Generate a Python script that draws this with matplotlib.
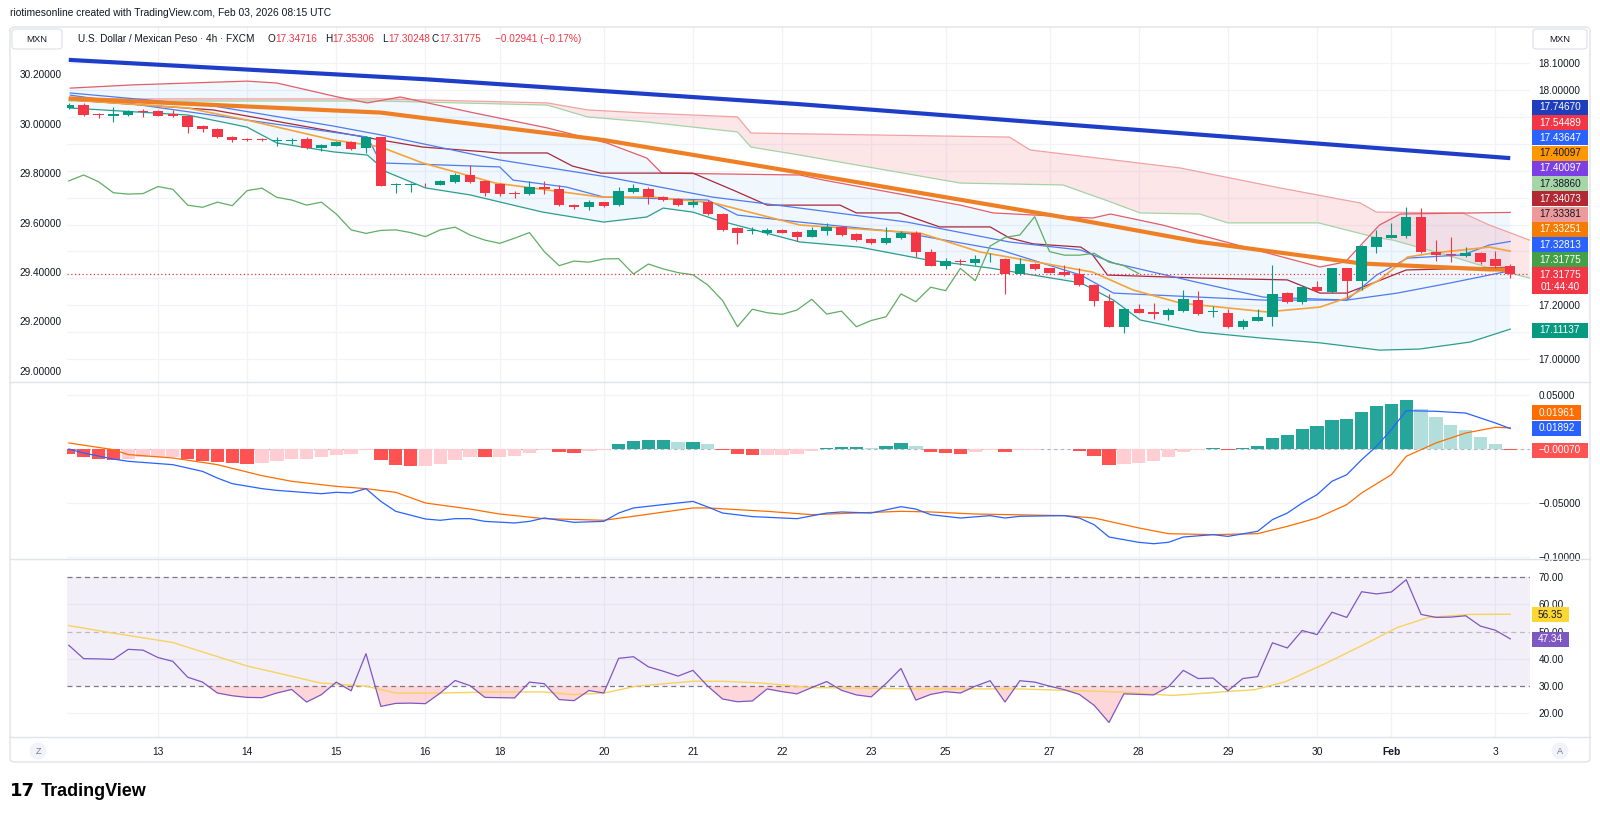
#!/usr/bin/env python3
"""USD/MXN 4h TradingView-style chart (candles, Ichimoku/bands, MACD, RSI)."""

import numpy as np
import matplotlib
matplotlib.use('Agg')
import matplotlib.pyplot as plt
from matplotlib.patches import FancyBboxPatch, Rectangle, Ellipse
from matplotlib.lines import Line2D

plt.rcParams['font.family'] = ['Liberation Sans', 'DejaVu Sans']

# ============================================================================
# Data (x = 4h bar index, 0 = Jan 12 00:00)
# ============================================================================
day_bars = [6, 12, 18, 24, 29, 36, 42, 48, 54, 59, 66, 72, 78, 84, 89, 96]
day_labels = ['13', '14', '15', '16', '18', '20', '21', '22', '23', '25',
              '27', '28', '29', '30', 'Feb', '3']

opens = [17.934, 17.944, 17.910, 17.905, 17.907, 17.922, 17.923, 17.910, 17.903, 17.866,
         17.855, 17.826, 17.816, 17.816, 17.810, 17.812, 17.817, 17.783, 17.792, 17.807,
         17.783, 17.824, 17.647, 17.648, 17.652, 17.647, 17.659, 17.684, 17.662, 17.650,
         17.618, 17.613, 17.641, 17.632, 17.572, 17.564, 17.583, 17.572, 17.622, 17.632,
         17.603, 17.594, 17.572, 17.583, 17.539, 17.486, 17.474, 17.467, 17.480, 17.473,
         17.455, 17.477, 17.490, 17.465, 17.445, 17.430, 17.449, 17.470, 17.399, 17.347,
         17.364, 17.358, 17.370, 17.372, 17.316, 17.353, 17.337, 17.322, 17.316, 17.275,
         17.217, 17.120, 17.185, 17.174, 17.164, 17.180, 17.219, 17.174, 17.172, 17.120,
         17.143, 17.157, 17.244, 17.212, 17.267, 17.250, 17.337, 17.291, 17.418, 17.451,
         17.458, 17.529, 17.399, 17.388, 17.384, 17.393, 17.372, 17.34716]
highs = [17.952, 17.950, 17.915, 17.938, 17.925, 17.928, 17.926, 17.925, 17.908, 17.870,
         17.858, 17.830, 17.820, 17.820, 17.825, 17.823, 17.826, 17.800, 17.810, 17.810,
         17.830, 17.826, 17.655, 17.656, 17.655, 17.665, 17.690, 17.720, 17.665, 17.653,
         17.625, 17.660, 17.660, 17.645, 17.576, 17.590, 17.585, 17.640, 17.650, 17.640,
         17.607, 17.598, 17.595, 17.590, 17.542, 17.490, 17.490, 17.487, 17.485, 17.476,
         17.490, 17.505, 17.495, 17.468, 17.448, 17.490, 17.475, 17.475, 17.410, 17.375,
         17.370, 17.385, 17.393, 17.375, 17.375, 17.356, 17.340, 17.350, 17.340, 17.280,
         17.240, 17.190, 17.205, 17.210, 17.190, 17.257, 17.253, 17.198, 17.185, 17.148,
         17.185, 17.351, 17.250, 17.270, 17.290, 17.340, 17.340, 17.425, 17.480, 17.504,
         17.566, 17.560, 17.442, 17.454, 17.418, 17.398, 17.400, 17.35306]
lows = [17.930, 17.903, 17.895, 17.882, 17.905, 17.900, 17.903, 17.900, 17.840, 17.845,
        17.820, 17.805, 17.810, 17.810, 17.790, 17.800, 17.780, 17.775, 17.790, 17.778,
        17.765, 17.642, 17.618, 17.620, 17.640, 17.645, 17.655, 17.656, 17.605, 17.605,
        17.600, 17.610, 17.615, 17.568, 17.558, 17.553, 17.565, 17.568, 17.618, 17.578,
        17.588, 17.570, 17.566, 17.536, 17.475, 17.427, 17.465, 17.462, 17.467, 17.440,
        17.452, 17.460, 17.458, 17.440, 17.427, 17.428, 17.445, 17.380, 17.345, 17.335,
        17.350, 17.350, 17.360, 17.243, 17.313, 17.330, 17.318, 17.310, 17.272, 17.197,
        17.118, 17.095, 17.170, 17.150, 17.145, 17.175, 17.163, 17.155, 17.117, 17.110,
        17.140, 17.123, 17.208, 17.206, 17.250, 17.245, 17.225, 17.255, 17.394, 17.448,
        17.449, 17.395, 17.364, 17.360, 17.380, 17.355, 17.340, 17.30248]
closes = [17.944, 17.907, 17.906, 17.909, 17.922, 17.920, 17.905, 17.904, 17.864, 17.854,
          17.824, 17.814, 17.813, 17.813, 17.813, 17.815, 17.783, 17.796, 17.807, 17.782,
          17.824, 17.644, 17.651, 17.652, 17.649, 17.662, 17.684, 17.659, 17.618, 17.613,
          17.615, 17.641, 17.631, 17.572, 17.564, 17.583, 17.570, 17.626, 17.635, 17.601,
          17.591, 17.572, 17.583, 17.539, 17.480, 17.467, 17.478, 17.480, 17.470, 17.455,
          17.480, 17.490, 17.461, 17.442, 17.430, 17.449, 17.470, 17.399, 17.347, 17.364,
          17.360, 17.372, 17.373, 17.316, 17.353, 17.335, 17.321, 17.313, 17.275, 17.217,
          17.120, 17.185, 17.172, 17.166, 17.182, 17.222, 17.167, 17.178, 17.120, 17.143,
          17.157, 17.242, 17.213, 17.267, 17.254, 17.337, 17.291, 17.420, 17.452, 17.461,
          17.529, 17.399, 17.386, 17.386, 17.393, 17.360, 17.347, 17.31775]

# lagging span (plotted from bar 0 onwards)
lagging = [17.662, 17.684, 17.659, 17.618, 17.613, 17.615, 17.641, 17.631, 17.572, 17.564,
           17.583, 17.570, 17.626, 17.635, 17.601, 17.591, 17.572, 17.583, 17.539, 17.480,
           17.467, 17.478, 17.480, 17.470, 17.455, 17.480, 17.490, 17.461, 17.442, 17.430,
           17.449, 17.470, 17.399, 17.347, 17.364, 17.360, 17.372, 17.373, 17.316, 17.353,
           17.335, 17.321, 17.313, 17.275, 17.217, 17.120, 17.185, 17.172, 17.166, 17.182,
           17.222, 17.167, 17.178, 17.120, 17.143, 17.157, 17.242, 17.213, 17.267, 17.254,
           17.337, 17.291, 17.420, 17.452, 17.461, 17.529, 17.399, 17.386, 17.386, 17.393,
           17.360, 17.347, 17.31775]

ma_long_x = [0, 24, 49, 68, 97]
ma_long = [18.112, 18.040, 17.948, 17.868, 17.7467]
ma_mid_x = [0, 21, 24, 36, 52, 68, 76, 87, 95.6, 97]
ma_mid = [17.969, 17.916, 17.895, 17.814, 17.667, 17.517, 17.436, 17.355, 17.333, 17.3325]

upper_x = [0.1, 4.3, 12.0, 14.0, 18.1, 20.1, 22.3, 27.0, 32.2, 36.2, 38.9, 39.9, 49.2,
           50.8, 60.0, 62.2, 68.9, 70.1, 73.6, 76.1, 84.2, 85.9, 88.2, 89.6, 97.0]
upper = [18.007, 18.019, 18.033, 18.026, 17.974, 17.952, 17.974, 17.918, 17.859, 17.803,
         17.747, 17.691, 17.684, 17.665, 17.572, 17.543, 17.524, 17.539, 17.498, 17.461,
         17.342, 17.361, 17.498, 17.539, 17.545]
lower_x = [0.1, 8, 12, 14, 17.8, 20.1, 21.4, 24, 27, 29.9, 31.9, 36, 38.9, 40, 42, 43.6,
           49.2, 53.2, 57.8, 62, 68.1, 70.3, 72.1, 76.1, 80.2, 84.2, 88.2, 90.9, 94.3, 97]
lower = [17.933, 17.907, 17.862, 17.803, 17.770, 17.758, 17.695, 17.636, 17.610, 17.572,
         17.546, 17.509, 17.528, 17.561, 17.546, 17.517, 17.435, 17.416, 17.368, 17.338,
         17.283, 17.219, 17.145, 17.100, 17.078, 17.060, 17.033, 17.037, 17.063, 17.111]

cloud_a_x = [0, 21, 32.2, 34.9, 38.9, 45.0, 45.9, 63.3, 64.7, 74.8, 81.5, 86.9, 88.0,
             93.8, 95.6, 98.3]
cloud_a = [17.967, 17.967, 17.952, 17.926, 17.914, 17.900, 17.840, 17.825, 17.777, 17.710,
           17.636, 17.580, 17.546, 17.543, 17.498, 17.442]
cloud_b_x = [0, 21, 32.2, 34.9, 38.9, 45.0, 45.9, 49.2, 60.0, 66.9, 70.1, 72.1, 76.1, 78.0,
             84.1, 87.8, 89.1, 93.2, 95.6, 98.3]
cloud_b = [17.959, 17.959, 17.944, 17.900, 17.881, 17.844, 17.788, 17.758, 17.654, 17.647,
           17.584, 17.543, 17.539, 17.506, 17.506, 17.454, 17.442, 17.379, 17.338, 17.301]

base_x = [0.1, 9.7, 21, 23.8, 29, 32.2, 33.9, 35.8, 42, 44.7, 47, 51.9, 53, 55.9, 58.6, 62,
          63.3, 64.9, 68.1, 68.9, 69.9, 76.1, 82, 84.2, 86, 87.8, 90, 97]
base = [17.963, 17.926, 17.814, 17.788, 17.766, 17.766, 17.717, 17.691, 17.691, 17.628,
        17.572, 17.572, 17.543, 17.543, 17.491, 17.491, 17.450, 17.428, 17.416, 17.387,
        17.312, 17.301, 17.294, 17.245, 17.245, 17.283, 17.331, 17.341]

blue_up_x = [0.1, 9.7, 17.8, 21, 29, 36.2, 43.3, 49.2, 56.4, 63.3, 68.1, 70.3, 76.1, 80.4,
             86, 88, 90.1, 93.8, 95.6, 97]
blue_up = [17.989, 17.941, 17.866, 17.833, 17.740, 17.677, 17.602, 17.561, 17.509, 17.435,
           17.405, 17.357, 17.283, 17.230, 17.219, 17.312, 17.375, 17.387, 17.424, 17.437]
blue_mid_x = [0.1, 20.1, 21, 29, 29.9, 33.5, 36, 43, 45, 49.2, 55.9, 62.7, 68.1, 70.3,
              76.1, 80.4, 86, 89.4, 93, 97]
blue_mid = [17.981, 17.825, 17.729, 17.714, 17.665, 17.639, 17.602, 17.591, 17.535, 17.509,
            17.472, 17.405, 17.312, 17.245, 17.230, 17.219, 17.219, 17.245, 17.283, 17.328]

ma_fast_x = [0.1, 8, 12, 17.8, 20.1, 21, 23.8, 28.7, 35.8, 39.3, 43.4, 49.2, 57.3, 61.3,
             68.9, 71.6, 74.8, 80.6, 84.2, 86, 88.2, 90.1, 91.8, 95.6, 97]
ma_fast = [17.963, 17.933, 17.888, 17.814, 17.796, 17.788, 17.729, 17.654, 17.602, 17.602,
           17.580, 17.498, 17.468, 17.398, 17.323, 17.257, 17.208, 17.175, 17.193, 17.227,
           17.294, 17.379, 17.394, 17.416, 17.401]

# MACD
macd_hist = [-0.0046, -0.0077, -0.0090, -0.0099, -0.0090, -0.0077, -0.0077, -0.0074, -0.0090, -0.0108,
             -0.0123, -0.0130, -0.0139, -0.0130, -0.0114, -0.0090, -0.0090, -0.0077, -0.0053, -0.0046,
             -0.0012, -0.0099, -0.0145, -0.0160, -0.0155, -0.0139, -0.0099, -0.0071, -0.0077, -0.0077,
             -0.0062, -0.0037, -0.0012, -0.0031, -0.0040, -0.0021, -0.0012, 0.0043, 0.0077, 0.0086,
             0.0086, 0.0068, 0.0068, 0.0043, -0.0012, -0.0043, -0.0053, -0.0053, -0.0053, -0.0046,
             -0.0021, 0.0012, 0.0021, 0.0021, 0.0009, 0.0031, 0.0053, 0.0031, -0.0031, -0.0040,
             -0.0049, -0.0028, -0.0012, -0.0031, -0.0012, -0.0009, 0.0003, -0.0003, -0.0021, -0.0065,
             -0.0148, -0.0139, -0.0130, -0.0114, -0.0077, -0.0031, -0.0012, 0.0012, -0.0012, 0.0012,
             0.0031, 0.0102, 0.0132, 0.0185, 0.0210, 0.0269, 0.0278, 0.0343, 0.0395, 0.0419,
             0.0451, 0.0370, 0.0294, 0.0225, 0.0179, 0.0111, 0.0049, -0.0007]
macd_x = [0, 1, 3, 4, 7, 9, 10, 11, 13, 14, 17, 18, 19, 20, 21, 22, 24, 25, 26, 27,
          28, 30, 31, 32, 34, 36, 37, 38, 40, 42, 43, 44, 46, 49, 51, 52, 54, 56, 57, 58,
          60, 62, 63, 64, 67, 68, 69, 70, 72, 73, 74, 75, 77, 78, 80, 81, 82, 83, 84, 85,
          86, 87, 88, 89, 90, 92, 94, 96, 97]
macd_line = [0.0, -0.0037, -0.0093, -0.0114, -0.0145, -0.0207, -0.0269, -0.0321, -0.0367, -0.0383,
             -0.0414, -0.0401, -0.0407, -0.0367, -0.0485, -0.0577, -0.0648, -0.0660, -0.0645, -0.0645,
             -0.0670, -0.0685, -0.0670, -0.0639, -0.0679, -0.0670, -0.0593, -0.0546, -0.0515, -0.0485,
             -0.0537, -0.0593, -0.0626, -0.0645, -0.0593, -0.0583, -0.0593, -0.0534, -0.0556, -0.0608,
             -0.0639, -0.0617, -0.0639, -0.0623, -0.0617, -0.0639, -0.0701, -0.0815, -0.0864, -0.0877,
             -0.0864, -0.0815, -0.0793, -0.0809, -0.0762, -0.0654, -0.0593, -0.0500, -0.0423, -0.0299,
             -0.0238, -0.0099, 0.0025, 0.0179, 0.0355, 0.0349, 0.0333, 0.0241, 0.01892]
signal_x = [0, 3, 4, 7, 10, 13, 15, 18, 20, 22, 24, 27, 29, 32, 36, 38, 42, 43, 47, 50,
            56, 58, 61, 67, 69, 72, 74, 77, 80, 82, 84, 86, 87, 89, 90, 92, 94, 96, 97]
signal_line = [0.0056, -0.0006, -0.0052, -0.0083, -0.0145, -0.0247, -0.0299, -0.0346, -0.0367, -0.0401,
               -0.0500, -0.0556, -0.0602, -0.0645, -0.0660, -0.0623, -0.0546, -0.0546, -0.0577, -0.0608,
               -0.0577, -0.0583, -0.0602, -0.0617, -0.0639, -0.0731, -0.0784, -0.0793, -0.0784, -0.0716,
               -0.0639, -0.0515, -0.0407, -0.0238, -0.0068, 0.0056, 0.0148, 0.0201, 0.01961]

# RSI
rsi = [45.0, 40.1, 40.0, 39.8, 43.5, 43.2, 40.5, 39.1, 33.3, 31.5,
       27.5, 26.5, 25.9, 25.8, 27.5, 28.8, 24.2, 26.9, 31.5, 28.3,
       41.9, 22.6, 23.7, 23.8, 23.6, 27.5, 32.1, 30.2, 25.9, 25.8,
       25.7, 31.5, 30.9, 25.1, 24.7, 28.4, 27.5, 40.2, 40.8, 37.1,
       35.5, 33.7, 35.8, 30.0, 25.3, 24.3, 24.6, 29.0, 28.0, 27.2,
       29.5, 31.7, 28.5, 26.8, 26.1, 31.0, 36.5, 24.9, 27.0, 28.0,
       27.5, 30.0, 32.0, 24.2, 32.0, 31.5, 30.0, 28.7, 27.0, 23.0,
       16.7, 27.2, 27.0, 26.8, 29.8, 35.8, 32.8, 33.0, 28.3, 32.8,
       33.5, 45.9, 44.0, 50.4, 48.9, 57.1, 55.2, 64.6, 63.8, 64.5,
       69.0, 56.3, 55.2, 55.3, 55.8, 52.0, 50.5, 47.34]
rsi_ma_x = [0, 2.7, 7, 12, 14, 16.9, 20, 22, 24.9, 28.9, 32, 33.9, 36, 38.2, 42, 44, 46.5,
            50, 57.2, 64, 71, 74.3, 77.8, 79.8, 81.9, 84.6, 87.4, 89.4, 91.5, 94.3, 97]
rsi_ma = [52.2, 49.7, 46.0, 37.4, 34.9, 31.2, 30.0, 27.5, 27.5, 27.9, 27.9, 26.9, 27.5, 30.0,
          31.8, 31.8, 31.2, 29.5, 29.0, 29.0, 27.8, 26.6, 28.0, 28.7, 31.7, 38.4, 45.9, 51.5,
          55.2, 56.3, 56.35]

# Right-scale tags: (y pixel, text, background, text colour)
price_tags = [
    (107.3, '17.74670', '#1E3EBE', 'white'),
    (122.7, '17.54489', '#F23645', 'white'),
    (137.9, '17.43647', '#2962FF', 'white'),
    (153.2, '17.40097', '#FF9800', '#131722'),
    (168.4, '17.40097', '#7B3FE4', 'white'),
    (183.6, '17.38860', '#A5D6A7', '#131722'),
    (198.9, '17.34073', '#B22833', 'white'),
    (214.1, '17.33381', '#EF9A9A', '#131722'),
    (229.4, '17.33251', '#F57C00', 'white'),
    (244.6, '17.32813', '#2962FF', 'white'),
    (259.9, '17.31775', '#43A047', 'white'),
    (330.5, '17.11137', '#089981', 'white'),
    (413, '0.01961', '#FF6D00', 'white'),
    (428.3, '0.01892', '#2962FF', 'white'),
    (450, '\u22120.00070', '#FF5252', 'white'),
    (614.5, '56.35', '#FDD835', '#131722'),
    (639.5, '47.34', '#7E57C2', 'white'),
]

# ============================================================================
# Figure
# ============================================================================
W, H = 1600, 817
TXT = '#131722'
GRID = '#F0F3FA'
BORDER = '#E0E3EB'
UP, DOWN = '#089981', '#F23645'


def fx(px):
    return px / W


def fy(py):
    return 1 - py / H


fig = plt.figure(figsize=(W / 100, H / 100), dpi=100, facecolor='white')
X0, X1 = 67, 1530


def pane(top, bottom):
    return fig.add_axes([fx(X0), fy(bottom), fx(X1) - fx(X0), (bottom - top) / H])


ax = pane(27, 382)
axm = pane(382, 559)
axr = pane(559, 737)

# left scale (twin) created first: twinx moves the host ticks, so fix sides afterwards
axl = ax.twinx()
axl.set_ylim(28.9543, 30.3915)
left_ticks = [30.2, 30.0, 29.8, 29.6, 29.4, 29.2, 29.0]
axl.set_yticks(left_ticks)
axl.set_yticklabels([f'{t:.5f}' for t in left_ticks])
axl.yaxis.tick_left()
axl.tick_params(axis='y', length=0, pad=4, labelsize=7.2, labelcolor=TXT)
for s in axl.spines.values():
    s.set_visible(False)

for a in (ax, axm, axr):
    a.set_xlim(-0.12, 98.33)
    for s in a.spines.values():
        s.set_visible(False)
    a.set_xticks([])
    a.yaxis.tick_right()
    a.tick_params(axis='both', length=0, labelsize=7.2, labelcolor=TXT)
    a.tick_params(axis='y', pad=6)
    for b in day_bars:
        a.axvline(b, color=GRID, lw=0.9, zorder=0)

# ---------------------------------------------------------------- main pane
ax.set_ylim(16.9145, 18.2342)
for v in np.round(np.arange(17.0, 18.15, 0.1), 1):
    ax.axhline(v, color=GRID, lw=0.9, zorder=0)
ax.set_yticks([18.1, 18.0, 17.2, 17.0])
ax.set_yticklabels(['18.10000', '18.00000', '17.20000', '17.00000'])

arr = np.array
# band fill (upper channel to lower band) and cloud fill
ax.fill(np.r_[arr(upper_x), arr(lower_x)[::-1]], np.r_[arr(upper), arr(lower)[::-1]],
        color='#1E88E5', alpha=0.065, lw=0, zorder=1)
ax.fill(np.r_[arr(cloud_a_x), arr(cloud_b_x)[::-1]], np.r_[arr(cloud_a), arr(cloud_b)[::-1]],
        color='#F23645', alpha=0.12, lw=0, zorder=1.2)

ax.plot(cloud_a_x, cloud_a, color='#F0A3A3', lw=0.9, zorder=2)
ax.plot(cloud_b_x, cloud_b, color='#A3D4A5', lw=0.9, zorder=2)
ax.plot(upper_x, upper, color='#E35D6A', lw=0.9, zorder=3)
ax.plot(lower_x, lower, color='#2A9D8F', lw=0.9, zorder=3)
ax.plot(base_x, base, color='#A8283A', lw=0.9, zorder=3)
ax.plot(blue_up_x, blue_up, color='#4F7BF0', lw=0.9, zorder=3)
ax.plot(blue_mid_x, blue_mid, color='#4F7BF0', lw=0.9, zorder=3)
ax.plot(ma_fast_x, ma_fast, color='#F5A33A', lw=1.2, zorder=3.2)
ax.plot(np.arange(len(lagging)), lagging, color='#5FAE63', lw=0.9, zorder=3.1)
ax.plot(ma_mid_x, ma_mid, color='#EF7F24', lw=3.0, zorder=4, solid_capstyle='butt')
ax.plot(ma_long_x, ma_long, color='#1E3EC8', lw=3.0, zorder=4, solid_capstyle='butt')

o, h, l, c = map(arr, (opens, highs, lows, closes))
bars = np.arange(len(c))
cols = np.where(c >= o, UP, DOWN)
ax.vlines(bars, l, h, colors=cols, lw=0.8, zorder=6)
ax.bar(bars, np.maximum(np.abs(c - o), 0.003), bottom=np.minimum(o, c), width=0.7,
       color=cols, lw=0, zorder=7)
ax.axhline(c[-1], color=DOWN, lw=0.9, ls=(0, (1, 2)), zorder=5)

# ---------------------------------------------------------------- MACD pane
axm.set_ylim(-0.10185, 0.06204)
for v in (0.05, 0.0, -0.05, -0.1):
    axm.axhline(v, color=GRID, lw=0.9, zorder=0)
hist = arr(macd_hist)
hcols = []
for i, v in enumerate(hist):
    prev = hist[i - 1] if i else 0.0
    if v >= 0:
        hcols.append('#26A69A' if v >= prev else '#B2DFDB')
    else:
        hcols.append('#FF5252' if v < prev else '#FFCDD2')
axm.bar(bars, hist, width=0.9, color=hcols, lw=0, zorder=2)
axm.axhline(0, color='#787B86', lw=0.8, ls=(0, (3, 3)), alpha=0.5, zorder=1)
axm.plot(signal_x, signal_line, color='#FF6D00', lw=0.9, zorder=3)
axm.plot(macd_x, macd_line, color='#2962FF', lw=0.9, zorder=3)
axm.set_yticks([0.05, -0.05, -0.1])
axm.set_yticklabels(['0.05000', '\u22120.05000', '\u22120.10000'])

# ---------------------------------------------------------------- RSI pane
axr.set_ylim(11.39, 76.59)
for v in (60, 40, 20):
    axr.axhline(v, color=GRID, lw=0.9, zorder=0)
axr.axhspan(30, 70, color='#7E57C2', alpha=0.09, lw=0, zorder=0.5)
axr.axhline(70, color='#787B86', lw=0.9, ls=(0, (4, 3)), zorder=1)
axr.axhline(50, color='#787B86', lw=0.9, ls=(0, (4, 3)), alpha=0.45, zorder=1)
axr.axhline(30, color='#787B86', lw=0.9, ls=(0, (4, 3)), zorder=1)
r = arr(rsi)
axr.fill_between(bars, r, 30, where=r < 30, interpolate=True, color='#F23645',
                 alpha=0.2, lw=0, zorder=1.5)
axr.plot(rsi_ma_x, rsi_ma, color='#F7D35E', lw=1.0, zorder=2)
axr.plot(bars, r, color='#7E57C2', lw=0.9, zorder=3)
axr.set_yticks([70, 60, 50, 40, 30, 20])
axr.set_yticklabels([f'{t:.2f}' for t in (70, 60, 50, 40, 30, 20)])
axr.set_xticks(day_bars)
axr.set_xticklabels(day_labels)
axr.tick_params(axis='x', pad=7, labelsize=7.4)
for t in axr.get_xticklabels():
    if t.get_text() == 'Feb':
        t.set_fontweight('bold')

# ---------------------------------------------------------------- chrome
fig.add_artist(FancyBboxPatch((fx(10), fy(762)), fx(1580), (762 - 27) / H,
                              boxstyle='round,pad=0,rounding_size=0.004',
                              transform=fig.transFigure, fill=False, ec=BORDER, lw=1))
for yy in (382, 559, 737):
    fig.add_artist(Line2D([fx(10), fx(1590)], [fy(yy), fy(yy)], color=BORDER, lw=1,
                          transform=fig.transFigure))

for bx0, bx1 in ((12, 62), (1533, 1587)):
    fig.add_artist(FancyBboxPatch((fx(bx0), fy(49)), fx(bx1 - bx0), 20 / H,
                                  boxstyle='round,pad=0,rounding_size=0.003',
                                  transform=fig.transFigure, fc='white', ec=BORDER, lw=0.9))
    fig.text(fx((bx0 + bx1) / 2), fy(39), 'MXN', fontsize=6.8, color=TXT,
             ha='center', va='center')


def tag(yc, text, bg, fg, height=15):
    w = 6.2 * len(text) + 6
    fig.add_artist(Rectangle((fx(1532), fy(yc + height / 2)), fx(w), height / H,
                             transform=fig.transFigure, fc=bg, ec='none'))
    fig.text(fx(1532 + w / 2), fy(yc), text, fontsize=7.2, color=fg,
             ha='center', va='center')


for yc, text, bg, fg in price_tags:
    tag(yc, text, bg, fg)
# last price with countdown
fig.add_artist(Rectangle((fx(1532), fy(294)), fx(55.6), 27 / H,
                         transform=fig.transFigure, fc=DOWN, ec='none'))
fig.text(fx(1559.8), fy(274.5), '17.31775', fontsize=7.2, color='white', ha='center', va='center')
fig.text(fx(1559.8), fy(287), '01:44:40', fontsize=7.2, color='white', ha='center', va='center')

# header and legend
fig.text(fx(10), fy(13), 'riotimesonline created with TradingView.com, Feb 03, 2026 08:15 UTC',
         fontsize=7.4, color=TXT, va='center')
fig.text(fx(78), fy(39), 'U.S. Dollar / Mexican Peso \u00b7 4h \u00b7 FXCM', fontsize=7.2,
         color=TXT, va='center')
for lx, letter, vx, val in ((268, 'O', 275, '17.34716'), (325, 'H', 332, '17.35306'),
                            (382, 'L', 388, '17.30248'), (432, 'C', 439, '17.31775')):
    fig.text(fx(lx), fy(39), letter, fontsize=7.2, color=TXT, va='center')
    fig.text(fx(vx), fy(39), val, fontsize=7.2, color=DOWN, va='center')
fig.text(fx(495), fy(39), '\u22120.02941 (\u22120.17%)', fontsize=7.2, color=DOWN, va='center')

# Z / A buttons
for cx, letter in ((38, 'Z'), (1560, 'A')):
    fig.add_artist(Ellipse((fx(cx), fy(751)), 17 / W, 17 / H, transform=fig.transFigure,
                           fc='#F0F3FA', ec='none'))
    fig.text(fx(cx), fy(751), letter, fontsize=6.5, color='#787B86', ha='center', va='center')

# logo
fig.text(fx(10), fy(791), '17', fontsize=13, fontweight='heavy', color='black',
         va='center', family='DejaVu Sans')
fig.text(fx(41), fy(791), 'TradingView', fontsize=13, fontweight='bold', color='black',
         va='center')

fig.savefig('out.png', dpi=100, facecolor='white')
plt.close(fig)
